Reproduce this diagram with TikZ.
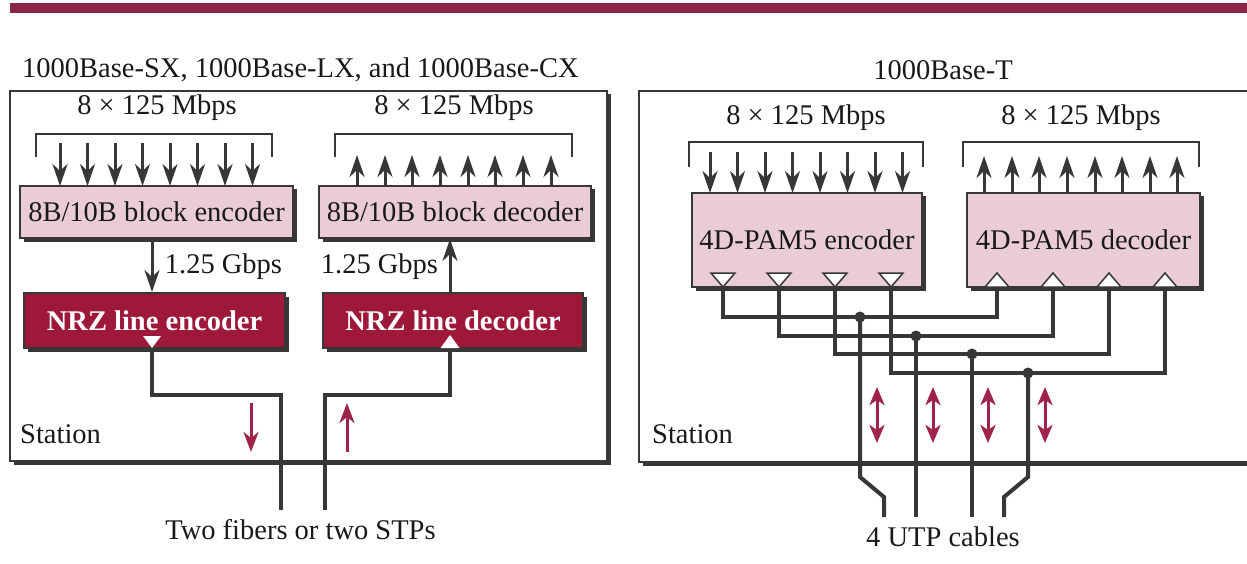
\documentclass[tikz,border=0pt]{standalone}
\usepackage{fontspec}
\setmainfont{Liberation Serif}
\usetikzlibrary{arrows.meta,shadows}
\definecolor{lg}{RGB}{55,55,55}
\definecolor{pinkc}{RGB}{234,204,216}
\definecolor{nrzc}{RGB}{158,24,58}
\definecolor{redc}{RGB}{158,36,74}
\definecolor{barc}{RGB}{138,38,72}
\newcommand\dfont{\fontsize{28.5}{32}\selectfont}
\begin{document}
\begin{tikzpicture}[x=1pt,y=-1pt,
  lbl/.style={font=\dfont, inner sep=0pt, text=black!90},
  sh/.style={general shadow={fill=lg, shadow xshift=3.5pt, shadow yshift=-3.5pt}},
  stbox/.style={draw=lg, line width=2.5pt, fill=white, sh},
  pinkbox/.style={rectangle, draw=lg, line width=2pt, fill=pinkc, sh, font=\dfont, inner sep=0pt, text=black!90},
  nrzbox/.style={rectangle, draw=lg, line width=2pt, fill=nrzc, sh, font=\dfont\bfseries, inner sep=0pt, text=white},
  brk/.style={draw=lg, line width=2.5pt},
  arr/.style={draw=lg, line width=3pt, -{Stealth[length=22pt,width=15pt,inset=7pt]}},
  wire/.style={draw=lg, line width=4pt},
  redarr/.style={draw=redc, line width=3pt, -{Stealth[length=20pt,width=15pt,inset=6pt]}},
  redbi/.style={draw=redc, line width=3pt, {Stealth[length=18pt,width=15pt,inset=5pt]}-{Stealth[length=18pt,width=15pt,inset=5pt]}},
  tristy/.style={fill=white, draw=lg, line width=1.5pt},
  trinrz/.style={fill=white},
  dot/.style={fill=lg}
]
\useasboundingbox (0,0) rectangle (1247,564);
\clip (0,0) rectangle (1247,564);
\fill[white] (0,0) rectangle (1247,564);
\fill[barc] (10,3) rectangle (1250,13);

% ---------------- left panel ----------------
\node[lbl, anchor=west] (titleL) at (22,70) {1000Base-SX, 1000Base-LX, and 1000Base-CX};
\path[stbox] (10,91) rectangle (607,461);
\node[lbl] (rateL1) at (157,108) {8 × 125 Mbps};
\node[lbl] (rateL2) at (454,108) {8 × 125 Mbps};
\draw[brk] (36,157) -- (36,134) -- (272,134) -- (272,157);
\draw[brk] (335,157) -- (335,134) -- (572,134) -- (572,157);

\node[pinkbox, minimum width=273pt, minimum height=52pt] (encL) at (156.5,212) {8B/10B block encoder};
\node[pinkbox, minimum width=272pt, minimum height=52pt] (decL) at (455,212) {8B/10B block decoder};
\node[nrzbox, minimum width=261pt, minimum height=55pt] (nrzE) at (154.5,320.5) {NRZ line encoder};
\node[nrzbox, minimum width=260pt, minimum height=55pt] (nrzD) at (453,320.5) {NRZ line decoder};

\foreach \x in {60,87.5,115,142.5,170,197.5,225,252.5}
  \draw[arr] (\x,143) -- (\x,186);
\foreach \x in {357,385,412,440,468,495,523,551}
  \draw[arr] (\x,187) -- (\x,155);

\coordinate (aE) at (152,0);
\coordinate (aD) at (450,0);
\draw[arr] (encL.south -| aE) -- (nrzE.north -| aE);
\draw[arr] (nrzD.north -| aD) -- (decL.south -| aD);
\node[lbl] (gL) at (223.5,267) {1.25 Gbps};
\node[lbl] (gR) at (379.5,267) {1.25 Gbps};

\coordinate (tE) at (152,348);
\coordinate (tD) at (450,348);
\coordinate (fL) at (281,510);
\coordinate (fR) at (325,510);
\draw[wire] (tE) -- ++(0,47) -| (fL);
\draw[wire] (tD) -- ++(0,47) -| (fR);
\fill[trinrz] (tE) -- ++(-9,-12) -- ++(18,0) -- cycle;
\fill[trinrz] (tD) ++(-9.5,0) -- ++(19,0) -- ++(-9.5,-13) -- cycle;

\draw[redarr] (251,403) -- (251,452);
\draw[redarr] (347,452) -- (347,403);
\node[lbl, anchor=west] (stL) at (20,434) {Station};
\node[lbl] (cabL) at (300.5,530) {Two fibers or two STPs};

% ---------------- right panel ----------------
\node[lbl] (titleR) at (943,70) {1000Base-T};
\path[stbox] (639,91) rectangle (1265,462);
\node[lbl] (rateR1) at (806,118) {8 × 125 Mbps};
\node[lbl] (rateR2) at (1081,118) {8 × 125 Mbps};
\draw[brk] (689,167) -- (689,142) -- (923,142) -- (923,167);
\draw[brk] (963,167) -- (963,142) -- (1199,142) -- (1199,167);

\node[pinkbox, minimum width=230pt, minimum height=94pt] (encR) at (807,240) {4D-PAM5 encoder};
\node[pinkbox, minimum width=233pt, minimum height=94pt] (decR) at (1083.5,240) {4D-PAM5 decoder};

\foreach \x in {710,737.5,765,792.5,820,847.5,875,902.5}
  \draw[arr] (\x,152) -- (\x,193);
\foreach \x in {984,1012,1039,1067,1095,1122,1150,1177}
  \draw[arr] (\x,193) -- (\x,156);

\coordinate (e1) at (723,287);
\coordinate (e2) at (779,287);
\coordinate (e3) at (835,287);
\coordinate (e4) at (891,287);
\coordinate (d1) at (997,287);
\coordinate (d2) at (1053,287);
\coordinate (d3) at (1109,287);
\coordinate (d4) at (1165,287);
\coordinate (j1) at (860,317);
\coordinate (j2) at (916,336);
\coordinate (j3) at (972,354);
\coordinate (j4) at (1028,373);
\coordinate (c1) at (884,517);
\coordinate (c2) at (916,517);
\coordinate (c3) at (972,517);
\coordinate (c4) at (1004,517);

\draw[wire] (e1) |- (j1) -| (d1);
\draw[wire] (e2) |- (j2) -| (d2);
\draw[wire] (e3) |- (j3) -| (d3);
\draw[wire] (e4) |- (j4) -| (d4);

\draw[wire] (j1) -- (860,477) -- (884,497) -- (c1);
\draw[wire] (j2) -- (c2);
\draw[wire] (j3) -- (c3);
\draw[wire] (j4) -- (1028,477) -- (1004,497) -- (c4);
\foreach \j in {j1,j2,j3,j4} \fill[dot] (\j) circle (5.5);

\foreach \e in {e1,e2,e3,e4}
  \draw[tristy] (\e) -- ++(-12,-14) -- ++(24,0) -- cycle;
\foreach \d in {d1,d2,d3,d4}
  \draw[tristy] (\d) ++(-12,0) -- ++(24,0) -- ++(-12,-14) -- cycle;

\foreach \x in {877,933,988,1045}
  \draw[redbi] (\x,387) -- (\x,443);

\node[lbl, anchor=west] (stR) at (652,434) {Station};
\node[lbl] (cabR) at (943,537) {4 UTP cables};
\end{tikzpicture}
\end{document}
